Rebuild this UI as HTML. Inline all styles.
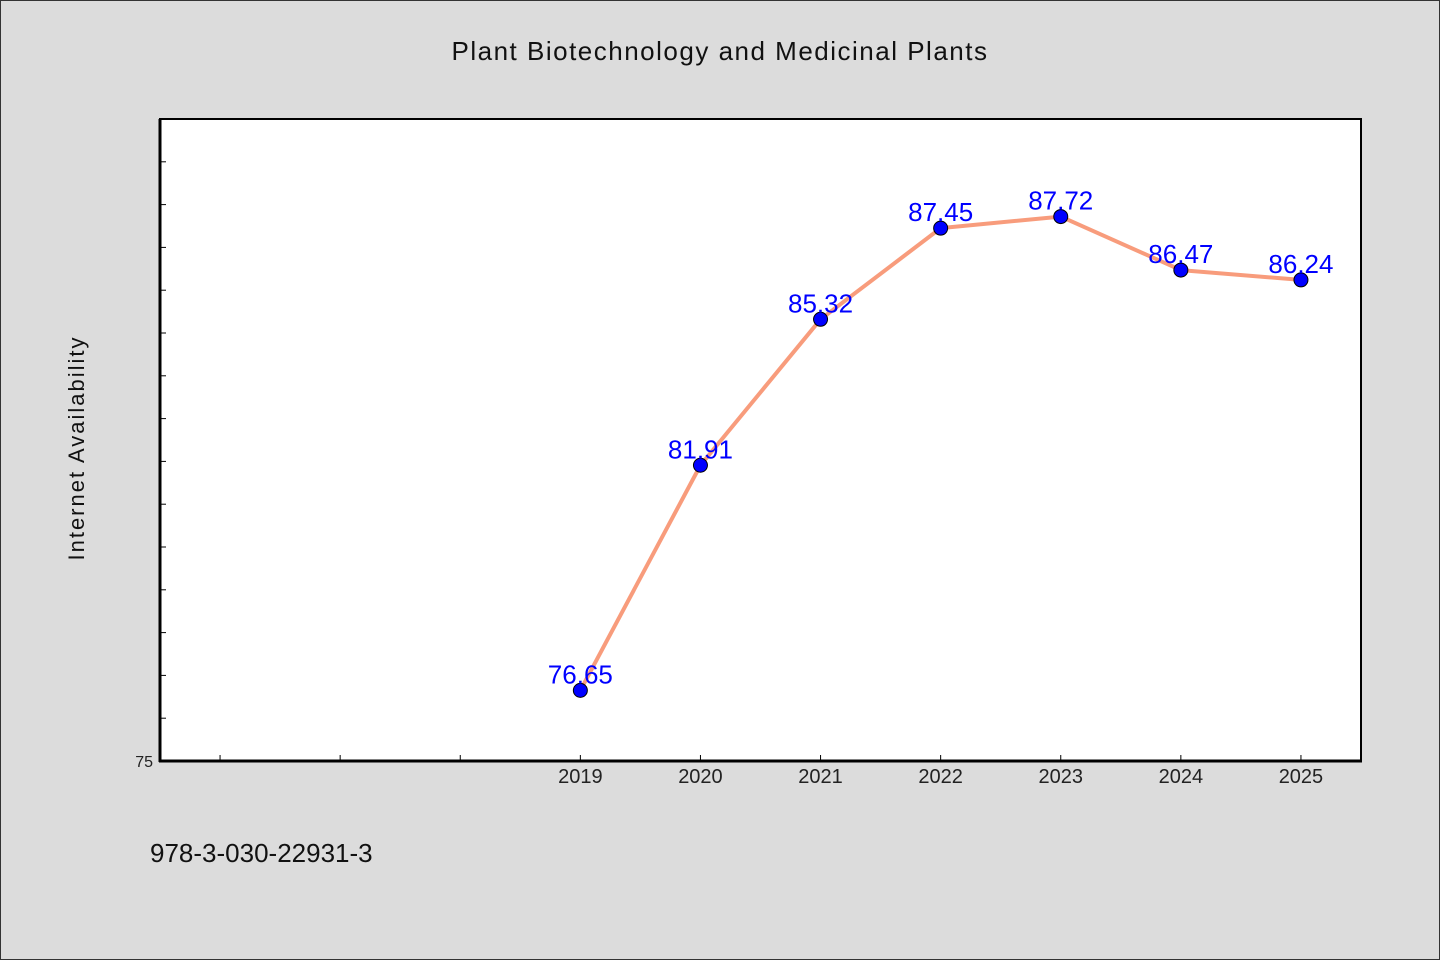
<!DOCTYPE html>
<html><head><meta charset="utf-8"><style>
body{margin:0;width:1440px;height:960px;background:#dcdcdc;overflow:hidden}
svg{display:block}
text{font-family:"WenQuanYi Zen Hei","Liberation Sans",sans-serif}
</style></head><body>
<svg id="chart" width="1440" height="960" xmlns="http://www.w3.org/2000/svg">
<rect x="0.5" y="0.5" width="1439" height="959" fill="#dcdcdc" stroke="#333" stroke-width="1"/>
<text x="720" y="60" font-size="26" text-anchor="middle" fill="#111" letter-spacing="1.5">Plant Biotechnology and Medicinal Plants</text>
<rect x="160" y="119" width="1201" height="642" fill="#fff" stroke="#000" stroke-width="2"/>
<g id="ticks"></g>
<path id="line" fill="none" stroke="#f89c7c" stroke-width="4" stroke-linejoin="round"/>
<g id="points"></g>
<line x1="160" y1="119" x2="160" y2="762" stroke="#000" stroke-width="3"/>
<line x1="159" y1="761" x2="1362" y2="761" stroke="#000" stroke-width="3"/>
<text transform="translate(84,448) rotate(-90)" font-size="22" text-anchor="middle" fill="#111" letter-spacing="2">Internet Availability</text>
<text x="150" y="862" font-size="26" fill="#111">978-3-030-22931-3</text>
</svg>
<script>
const years=[2019,2020,2021,2022,2023,2024,2025];
const values=[76.65,81.91,85.32,87.45,87.72,86.47,86.24];
const labels=["76.65","81.91","85.32","87.45","87.72","86.47","86.24"];
const xTicks=[2016,2017,2018,2019,2020,2021,2022,2023,2024,2025];
const yTicks=[75,76,77,78,79,80,81,82,83,84,85,86,87,88,89];
const xMin=2015.5,xMax=2025.5,yMin=75,yMax=90;
const L=160,R=1361,T=119,B=761;
const sx=v=>L+(v-xMin)/(xMax-xMin)*(R-L);
const sy=v=>B-(v-yMin)/(yMax-yMin)*(B-T);
const NS="http://www.w3.org/2000/svg";
const tg=document.getElementById('ticks');
function mk(t,a,p){const e=document.createElementNS(NS,t);for(const k in a)e.setAttribute(k,a[k]);p.appendChild(e);return e;}
xTicks.forEach(v=>{
 const l=mk('line',{x1:sx(v),x2:sx(v),y1:B,y2:B-6,stroke:'#000','stroke-width':1},tg);
 
 
 if(years.includes(v)){const t=mk('text',{x:sx(v),y:B+22,'font-size':20,'text-anchor':'middle',fill:'#222'},tg);t.textContent=v;
 
 }
});
yTicks.forEach(v=>{
 const l=mk('line',{x1:L,x2:L+6,y1:sy(v),y2:sy(v),stroke:'#000','stroke-width':1},tg);
 
 
});
const yl=mk('text',{x:153,y:B+6,'font-size':16,'text-anchor':'end',fill:'#222'},tg);yl.textContent=yTicks[0];


document.getElementById('line').setAttribute('d',years.map((y,i)=>(i?'L':'M')+sx(y)+','+sy(values[i])).join(' '));
const pg=document.getElementById('points');
years.forEach((y,i)=>{
 const c=mk('circle',{cx:sx(y),cy:sy(values[i]),r:7,fill:'#0000ff',stroke:'#000','stroke-width':1},pg);
 
 
 const t=mk('text',{x:sx(y),y:sy(values[i])-7,'font-size':26,'text-anchor':'middle',fill:'#0000ff'},pg);
 t.textContent=labels[i];
 
 
});
</script>
</body></html>
